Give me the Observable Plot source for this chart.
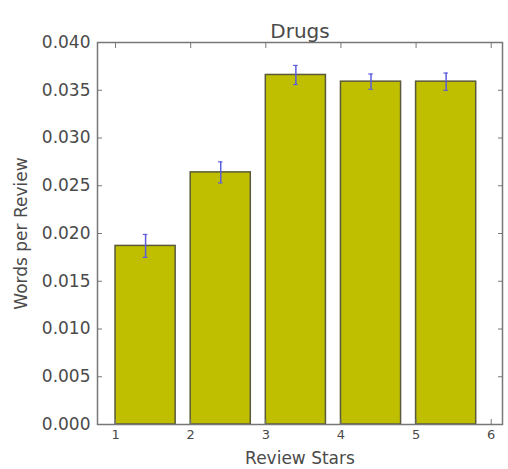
<!DOCTYPE html>
<html>
<head>
<meta charset="utf-8">
<script src="https://cdn.jsdelivr.net/npm/d3@7"></script>
<script src="https://cdn.jsdelivr.net/npm/@observablehq/plot@0.6"></script>
<style>
  html, body { margin: 0; padding: 0; background: #fff; }
  #chart svg { display: block; }
</style>
</head>
<body>
<div id="chart"></div>
<script>
const title = "Drugs";
const xLabel = "Review Stars";
const yLabel = "Words per Review";
const stars = [1, 2, 3, 4, 5];
const values = [0.0187, 0.0264, 0.0366, 0.0359, 0.0359];
const errors = [0.0012, 0.0011, 0.0010, 0.0008, 0.0009];
const xTicks = [1, 2, 3, 4, 5, 6];
const yTicks = [0, 0.005, 0.010, 0.015, 0.020, 0.025, 0.030, 0.035, 0.040];

const barWidth = 0.8;
const data = stars.map((s, i) => ({ star: s, value: values[i], err: errors[i] }));

const font = "'DejaVu Sans', sans-serif";
const textColor = "#4a4a4a";

const chart = Plot.plot({
  width: 508,
  height: 469,
  marginLeft: 97,
  marginRight: 6,
  marginTop: 42,
  marginBottom: 45,
  style: { fontFamily: font, fontSize: "17px", color: textColor, background: "#fff" },
  x: { type: "linear", domain: [0.76, 6.15] },
  y: { domain: [0, 0.04] },
  marks: [
    Plot.rectY(data, {
      x1: d => d.star,
      x2: d => d.star + barWidth,
      y1: 0,
      y2: "value",
      fill: "#bfbf00",
      stroke: "#5a5a3a",
      strokeWidth: 1.5
    }),
    Plot.ruleX(data, {
      x: d => d.star + barWidth / 2,
      y1: d => d.value - d.err,
      y2: d => d.value + d.err,
      stroke: "#5c5ce0",
      strokeWidth: 1.5
    }),
    Plot.ruleY(data.flatMap(d => [
      { star: d.star, y: d.value - d.err },
      { star: d.star, y: d.value + d.err }
    ]), {
      y: "y",
      x1: d => d.star + barWidth / 2 - 0.03,
      x2: d => d.star + barWidth / 2 + 0.03,
      stroke: "#5c5ce0",
      strokeWidth: 1.2
    }),
    Plot.frame({ stroke: "#777", strokeWidth: 1.5 }),
    Plot.axisY({
      anchor: "left",
      ticks: yTicks,
      tickFormat: d3.format(".3f"),
      tickSize: -5,
      tickPadding: 12,
      stroke: "#777",
      fill: textColor,
      fontSize: 17,
      label: yLabel,
      labelAnchor: "center",
      labelArrow: "none",
      labelOffset: 83
    }),
    Plot.axisY({
      anchor: "right",
      ticks: yTicks,
      text: null,
      tickSize: -5,
      stroke: "#777",
      label: null
    }),
    Plot.axisX({
      anchor: "bottom",
      ticks: xTicks,
      tickFormat: d3.format("d"),
      tickSize: -5,
      tickPadding: 10,
      stroke: "#777",
      fill: textColor,
      fontSize: 13,
      label: null
    }),
    Plot.axisX({
      anchor: "top",
      ticks: xTicks,
      text: null,
      tickSize: -5,
      stroke: "#777",
      label: null
    }),
    Plot.text([xLabel], {
      text: d => d,
      frameAnchor: "bottom",
      lineAnchor: "middle",
      dy: 34,
      fontSize: 17,
      fill: textColor
    }),
    Plot.text([title], {
      text: d => d,
      frameAnchor: "top",
      lineAnchor: "bottom",
      dy: -5,
      fontSize: 20,
      fill: textColor
    })
  ]
});
document.getElementById("chart").appendChild(chart);
</script>
</body>
</html>
